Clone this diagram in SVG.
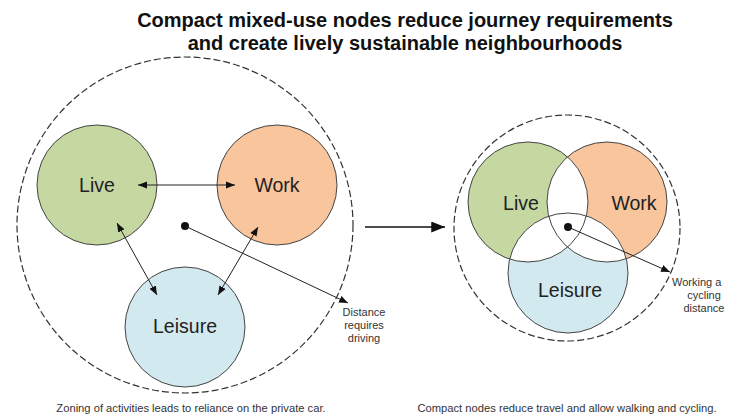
<svg xmlns="http://www.w3.org/2000/svg" width="733" height="417" viewBox="0 0 733 417">
  <style>
    .title { font-family: "Liberation Sans", Arial, sans-serif; font-weight: bold; font-size: 20px; fill: #111; text-anchor: middle; }
    .label { font-family: "Liberation Sans", Arial, sans-serif; font-size: 19.5px; fill: #222; text-anchor: middle; }
    .note { font-family: "Liberation Sans", Arial, sans-serif; font-size: 11px; fill: #333; text-anchor: middle; }
    .caption { font-family: "Liberation Sans", Arial, sans-serif; font-size: 11.2px; fill: #333; text-anchor: middle; }
    .zone { fill: none; stroke: #333; stroke-width: 1.2; stroke-dasharray: 7 3; }
    .node { stroke: #444; stroke-width: 1; }
    .outline { fill: none; stroke: #444; stroke-width: 1; }
    .live { fill: #c5d8a2; }
    .work { fill: #f9c59d; }
    .leisure { fill: #d3e9f0; }
    .link { fill: none; stroke: #222; stroke-width: 1; }
    .big { fill: none; stroke: #111; stroke-width: 1.6; }
  </style>
  <defs>
    <marker id="head" viewBox="0 0 10 8" refX="10" refY="4" markerWidth="9" markerHeight="7.5" markerUnits="userSpaceOnUse" orient="auto-start-reverse">
      <path d="M0,0 L10,4 L0,8 z" fill="#111"/>
    </marker>
    <marker id="bighead" viewBox="0 0 10 8" refX="10" refY="4" markerWidth="14" markerHeight="11" markerUnits="userSpaceOnUse" orient="auto">
      <path d="M0,0 L10,4 L0,8 z" fill="#111"/>
    </marker>
    <clipPath id="clipLive"><circle cx="528" cy="202" r="60"/></clipPath>
    <clipPath id="clipWork"><circle cx="607" cy="202" r="60"/></clipPath>
  </defs>

  <rect width="733" height="417" fill="#fff"/>

  <!-- heading -->
  <text class="title" x="405" y="27">Compact mixed-use nodes reduce journey requirements</text>
  <text class="title" x="405" y="50">and create lively sustainable neighbourhoods</text>

  <!-- zoned layout: separate activity areas -->
  <g id="zone-left">
    <circle class="zone" cx="185" cy="225" r="168"/>
  </g>
  <g id="left-live">
    <circle class="node live" cx="97" cy="185" r="60"/>
    <text class="label" x="97" y="192">Live</text>
  </g>
  <g id="left-work">
    <circle class="node work" cx="277" cy="185" r="60"/>
    <text class="label" x="277" y="192">Work</text>
  </g>
  <g id="left-leisure">
    <circle class="node leisure" cx="185" cy="327" r="60"/>
    <text class="label" x="185" y="333">Leisure</text>
  </g>
  <g id="left-centre">
    <circle cx="185" cy="226" r="4" fill="#111"/>
  </g>
  <g id="left-note">
    <text class="note" x="364" y="316">Distance</text>
    <text class="note" x="364" y="329">requires</text>
    <text class="note" x="364" y="342">driving</text>
  </g>

  <!-- compact layout: overlapping activity areas -->
  <g id="zone-right">
    <circle class="zone" cx="567" cy="228" r="113"/>
  </g>
  <g id="right-live">
    <circle class="live" cx="528" cy="202" r="60"/>
  </g>
  <g id="right-work">
    <circle class="work" cx="607" cy="202" r="60"/>
  </g>
  <g id="right-leisure">
    <circle class="leisure" cx="568" cy="273" r="60"/>
  </g>
  <g id="right-overlaps">
    <circle cx="607" cy="202" r="60" fill="#fff" clip-path="url(#clipLive)"/>
    <circle cx="568" cy="273" r="60" fill="#fff" clip-path="url(#clipLive)"/>
    <circle cx="568" cy="273" r="60" fill="#fff" clip-path="url(#clipWork)"/>
    <circle class="outline" cx="528" cy="202" r="60"/>
    <circle class="outline" cx="607" cy="202" r="60"/>
    <circle class="outline" cx="568" cy="273" r="60"/>
    <text class="label" x="521" y="210">Live</text>
    <text class="label" x="634" y="210">Work</text>
    <text class="label" x="570" y="297">Leisure</text>
  </g>
  <g id="right-centre">
    <circle cx="568" cy="227" r="4" fill="#111"/>
  </g>
  <g id="right-note">
    <text class="note" x="672" y="286" style="text-anchor:start">Working a</text>
    <text class="note" x="704" y="299">cycling</text>
    <text class="note" x="704" y="312">distance</text>
  </g>

  <!-- connectors -->
  <g id="connectors">
    <line class="link" x1="138" y1="185" x2="235" y2="185" marker-start="url(#head)" marker-end="url(#head)"/>
    <line class="link" x1="117" y1="223" x2="157" y2="295" marker-start="url(#head)" marker-end="url(#head)"/>
    <line class="link" x1="258" y1="227" x2="218" y2="295" marker-start="url(#head)" marker-end="url(#head)"/>
    <line class="link" x1="185" y1="226" x2="348" y2="303" marker-end="url(#head)"/>
    <line class="link" x1="568" y1="227" x2="670" y2="272" marker-end="url(#head)"/>
    <line class="big" x1="365" y1="227" x2="445" y2="227" marker-end="url(#bighead)"/>
  </g>

  <!-- captions -->
  <text class="caption" x="191" y="412">Zoning of activities leads to reliance on the private car.</text>
  <text class="caption" x="567" y="412">Compact nodes reduce travel and allow walking and cycling.</text>
</svg>
